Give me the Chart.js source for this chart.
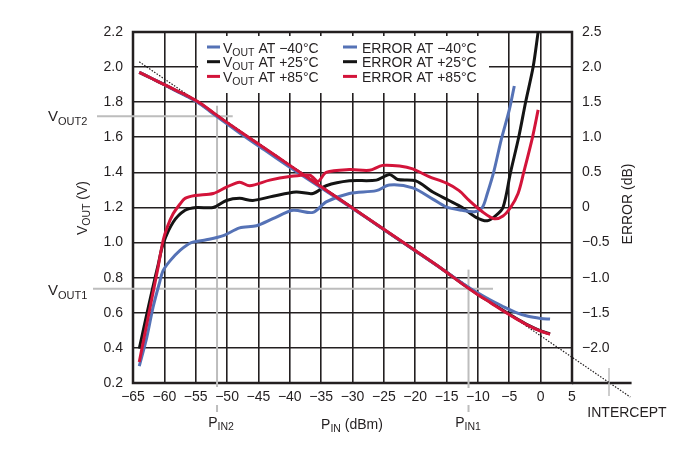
<!DOCTYPE html>
<html>
<head>
<meta charset="utf-8">
<script src="https://cdn.jsdelivr.net/npm/chart.js@4.4.1/dist/chart.umd.min.js"></script>
<style>
  html, body { margin: 0; padding: 0; background: #fff; }
  #wrap { width: 675px; height: 472px; }
</style>
</head>
<body>
<div id="wrap"><canvas id="chart" width="675" height="472"></canvas></div>
<script>
const INK = "#231f20";
const FONT = '"Liberation Sans", Arial, sans-serif';
const BLUE = "#5572b6";
const BLACK = "#141414";
const RED = "#d3143a";
const GRAY = "#bdbdbd";

// VOUT (V) vs PIN (dBm)
const voutPin = [-64, -62, -60, -58, -56, -54, -52, -48, -44, -40, -36, -32, -28, -24, -20, -16, -12, -10, -8, -6, -4, -2, 0, 1.5];
const voutRed = [1.97, 1.935, 1.9, 1.865, 1.83, 1.788, 1.735, 1.635, 1.538, 1.44, 1.343, 1.246, 1.149, 1.052, 0.955, 0.857, 0.752, 0.703, 0.658, 0.612, 0.568, 0.528, 0.495, 0.478];
const voutBlue = [1.97, 1.935, 1.9, 1.862, 1.825, 1.782, 1.728, 1.625, 1.527, 1.43, 1.336, 1.242, 1.147, 1.05, 0.953, 0.857, 0.757, 0.712, 0.673, 0.636, 0.603, 0.58, 0.568, 0.564];
const voutBlack = [1.97, 1.935, 1.9, 1.864, 1.828, 1.786, 1.733, 1.632, 1.535, 1.437, 1.341, 1.245, 1.148, 1.051, 0.954, 0.857, 0.754, 0.705, 0.66, 0.614, 0.57, 0.53, 0.497, 0.48];

// ERROR (dB) vs PIN (dBm)
const errBluePin = [-64, -62.8, -61.8, -60.8, -60.2, -59.1, -57.5, -55.7, -53.3, -50.6, -48, -45.3, -42.7, -39.5, -36.3, -34.2, -30.5, -26.2, -24.1, -20.4, -17.2, -15.1, -12.5, -10.5, -9.3, -8.5, -7.5, -6.3, -5, -4.2];
const errBlueDb = [-2.26, -1.85, -1.42, -1.08, -0.9, -0.76, -0.61, -0.5, -0.46, -0.4, -0.29, -0.26, -0.16, -0.04, -0.07, 0.08, 0.2, 0.24, 0.32, 0.28, 0.12, 0.01, -0.04, -0.06, 0.0, 0.2, 0.5, 0.96, 1.39, 1.73];

const errBlackPin = [-64, -63, -62, -61, -60.2, -58.6, -56.7, -54.9, -52.2, -50.1, -48, -45.9, -42.7, -39, -36.3, -34.2, -30.5, -26.2, -24.1, -22.8, -19.9, -17.2, -14.6, -12.5, -10.3, -8.5, -7.2, -6, -4.8, -3.5, -2.4, -1.2, -0.4];
const errBlackDb = [-2.01, -1.6, -1.2, -0.82, -0.52, -0.21, -0.04, 0.0, 0.0, 0.1, 0.13, 0.1, 0.16, 0.22, 0.2, 0.31, 0.38, 0.39, 0.47, 0.4, 0.38, 0.22, 0.1, 0.0, -0.14, -0.19, -0.12, 0.0, 0.5, 1.0, 1.5, 2.0, 2.5];

const errRedPin = [-64, -63, -62, -61, -60.2, -59.5, -58.6, -57.5, -56.7, -55.1, -52.2, -50.1, -48, -46.4, -43.2, -40, -36.8, -35.5, -34.2, -30.5, -27.3, -25.2, -22.5, -20.4, -17.8, -15.1, -13, -11.4, -9.3, -7.4, -6, -4.8, -3.6, -2.7, -1.3, -0.4];
const errRedDb = [-2.2, -1.75, -1.3, -0.85, -0.47, -0.27, -0.09, 0.05, 0.13, 0.17, 0.2, 0.29, 0.36, 0.31, 0.39, 0.44, 0.46, 0.37, 0.5, 0.54, 0.53, 0.6, 0.59, 0.55, 0.44, 0.35, 0.24, 0.1, -0.06, -0.16, -0.12, 0.0, 0.2, 0.5, 1.0, 1.39];

// ideal log-law line through the intercept
const slopePin = [-64, 14.3];
const slopeVout = [2.03, 0.12];

// annotation values
const pin1 = -11.5, vout1 = 0.737;
const pin2 = -51.6, vout2 = 1.72;
const interceptPin = 10.9;

const xTicks = { min: -65, max: 5, step: 5 };
const vTicks = { min: 0.2, max: 2.2, step: 0.2 };
const dbTicks = { min: -2.5, max: 2.5, step: 0.5 };

function pts(xs, ys) {
  return xs.map((x, i) => ({ x: x, y: ys[i] }));
}

function minus(v, digits) {
  if (Math.abs(v) < 1e-9) return "0";
  const s = Math.abs(v).toFixed(digits);
  return v < 0 ? "\u2212" + s : s;
}

function curve(data, color, axis, order) {
  return {
    data: data,
    yAxisID: axis,
    borderColor: color,
    borderWidth: 3,
    pointRadius: 0,
    tension: 0.3,
    fill: false,
    order: order
  };
}

// text with subscripts: parts = [{t, size, dy}]
function rich(ctx, parts, x, y, align) {
  let total = 0;
  parts.forEach((p) => {
    ctx.font = p.size + "px " + FONT;
    p.w = ctx.measureText(p.t).width;
    total += p.w;
  });
  let cx = align === "center" ? x - total / 2 : align === "right" ? x - total : x;
  ctx.textAlign = "left";
  ctx.textBaseline = "alphabetic";
  parts.forEach((p) => {
    ctx.font = p.size + "px " + FONT;
    ctx.fillText(p.t, cx, y + (p.dy || 0));
    cx += p.w;
  });
}

function line(ctx, x1, y1, x2, y2, color, width) {
  ctx.beginPath();
  ctx.strokeStyle = color;
  ctx.lineWidth = width;
  ctx.moveTo(x1, y1);
  ctx.lineTo(x2, y2);
  ctx.stroke();
}

const decorations = {
  id: "decorations",
  beforeDatasetsDraw(chart) {
    const { ctx, chartArea: a, scales } = chart;
    const xs = scales.x, ys = scales.y;
    ctx.save();
    // legend background over the grid
    ctx.fillStyle = "#ffffff";
    ctx.fillRect(198, 36, 291, 57);
    // frame
    ctx.strokeStyle = INK;
    ctx.lineWidth = 2.5;
    ctx.strokeRect(a.left, a.top, a.right - a.left, a.bottom - a.top);
    // extension of the PIN axis out to the intercept
    line(ctx, a.right, a.bottom, xs.getPixelForValue(14.5), a.bottom, INK, 2.5);

    // reference lines
    const yV2 = ys.getPixelForValue(vout2);
    const xP2 = xs.getPixelForValue(pin2);
    line(ctx, 97, yV2, xs.getPixelForValue(-49.1), yV2, GRAY, 2);
    line(ctx, xP2, ys.getPixelForValue(1.78), xP2, a.bottom + 4, GRAY, 2);
    line(ctx, xP2, a.bottom + 22, xP2, a.bottom + 29, GRAY, 2);

    const yV1 = ys.getPixelForValue(vout1);
    const xP1 = xs.getPixelForValue(pin1);
    line(ctx, 93, yV1, xs.getPixelForValue(-7.6), yV1, GRAY, 2);
    line(ctx, xP1, ys.getPixelForValue(0.846), xP1, a.bottom + 5, GRAY, 2);
    line(ctx, xP1, a.bottom + 22, xP1, a.bottom + 29, GRAY, 2);

    const xI = xs.getPixelForValue(interceptPin);
    line(ctx, xI, a.bottom - 15, xI, a.bottom + 13, GRAY, 1.5);
    ctx.restore();
  },
  afterDatasetsDraw(chart) {
    const { ctx } = chart;
    ctx.save();
    ctx.fillStyle = INK;

    // legend
    const rows = [
      { c: BLUE, t: " AT \u221240\u00b0C" },
      { c: BLACK, t: " AT +25\u00b0C" },
      { c: RED, t: " AT +85\u00b0C" }
    ];
    rows.forEach((r, i) => {
      const base = 52.5 + i * 14.7;
      ctx.fillStyle = r.c;
      ctx.fillRect(207, base - 7, 13, 3);
      ctx.fillRect(343, base - 7, 14, 3);
      ctx.fillStyle = INK;
      rich(ctx, [{ t: "V", size: 14 }, { t: "OUT", size: 10.5, dy: 3 }, { t: r.t, size: 14 }], 223, base, "left");
      rich(ctx, [{ t: "ERROR" + r.t, size: 14 }], 362, base, "left");
    });

    // axis titles
    ctx.save();
    ctx.translate(87, 208);
    ctx.rotate(-Math.PI / 2);
    rich(ctx, [{ t: "V", size: 14 }, { t: "OUT", size: 10.5, dy: 3 }, { t: " (V)", size: 14 }], 0, 0, "center");
    ctx.restore();

    ctx.save();
    ctx.translate(632, 204);
    ctx.rotate(-Math.PI / 2);
    rich(ctx, [{ t: "ERROR (dB)", size: 14 }], 0, 0, "center");
    ctx.restore();

    rich(ctx, [{ t: "P", size: 14 }, { t: "IN", size: 10.5, dy: 3 }, { t: " (dBm)", size: 14 }], 352, 429, "center");

    // annotation labels
    rich(ctx, [{ t: "P", size: 14 }, { t: "IN2", size: 10.5, dy: 3 }], 221, 427, "center");
    rich(ctx, [{ t: "P", size: 14 }, { t: "IN1", size: 10.5, dy: 3 }], 468, 427, "center");
    rich(ctx, [{ t: "INTERCEPT", size: 14 }], 627, 417, "center");
    rich(ctx, [{ t: "V", size: 15 }, { t: "OUT2", size: 11, dy: 3.5 }], 48, 121, "left");
    rich(ctx, [{ t: "V", size: 15 }, { t: "OUT1", size: 11, dy: 3.5 }], 48, 295, "left");
    ctx.restore();
  }
};

const tickFont = { family: FONT, size: 14 };

new Chart(document.getElementById("chart"), {
  type: "line",
  data: {
    datasets: [
      curve(pts(errRedPin, errRedDb), RED, "y2", 0),
      curve(pts(voutPin, voutRed), RED, "y", 0),
      curve(pts(errBluePin, errBlueDb), BLUE, "y2", 1),
      curve(pts(voutPin, voutBlue), BLUE, "y", 1),
      curve(pts(errBlackPin, errBlackDb), BLACK, "y2", 2),
      curve(pts(voutPin, voutBlack), BLACK, "y", 2),
      {
        data: pts(slopePin, slopeVout),
        yAxisID: "y",
        borderColor: INK,
        borderWidth: 1.2,
        borderDash: [1.5, 1.5],
        pointRadius: 0,
        fill: false,
        clip: false,
        order: 3
      }
    ]
  },
  options: {
    responsive: false,
    animation: false,
    devicePixelRatio: 1,
    layout: { padding: { top: 32, left: 0, right: 0, bottom: 0 } },
    plugins: {
      legend: { display: false },
      tooltip: { enabled: false }
    },
    scales: {
      x: {
        type: "linear",
        min: xTicks.min,
        max: xTicks.max,
        ticks: { stepSize: xTicks.step, padding: 6, color: INK, font: tickFont, maxRotation: 0, callback: (v) => minus(v, 0) },
        grid: { color: INK, lineWidth: 1.6, drawTicks: false },
        border: { display: false },
        afterFit: (s) => { s.height = 89; }
      },
      y: {
        position: "left",
        min: vTicks.min,
        max: vTicks.max,
        ticks: { stepSize: vTicks.step, padding: 10, color: INK, font: tickFont, callback: (v) => Number(v).toFixed(1) },
        grid: { color: INK, lineWidth: 1.6, drawTicks: false },
        border: { display: false },
        afterFit: (s) => { s.width = 133; }
      },
      y2: {
        position: "right",
        min: dbTicks.min,
        max: dbTicks.max,
        ticks: {
          stepSize: dbTicks.step, padding: 10, color: INK, font: tickFont,
          // the bottom tick is left unlabelled, the intercept sits there
          callback: (v) => (v <= dbTicks.min + 1e-9 ? "" : minus(v, 1))
        },
        grid: { display: false, drawTicks: false },
        border: { display: false },
        afterFit: (s) => { s.width = 103; }
      }
    }
  },
  plugins: [decorations]
});
</script>
</body>
</html>
